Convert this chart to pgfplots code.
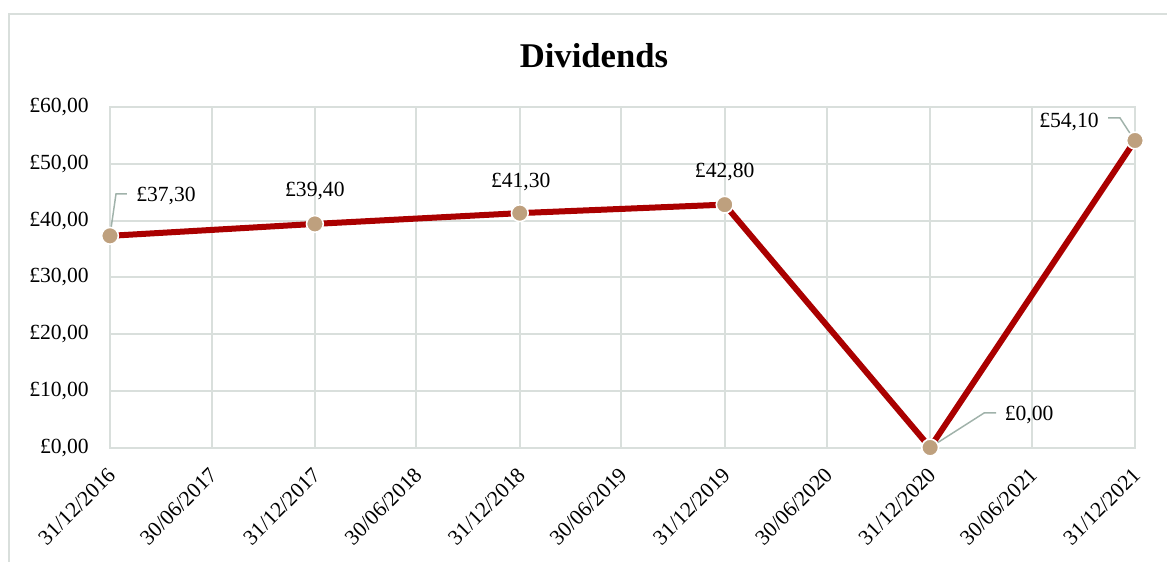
\documentclass[border=0pt]{standalone}
\usepackage{pgfplots}
\pgfplotsset{compat=1.18}
\usepackage{fontspec}
\setmainfont{Liberation Serif}
\definecolor{gridc}{RGB}{217,223,220}
\definecolor{linec}{RGB}{170,0,0}
\definecolor{markc}{RGB}{190,160,126}
\definecolor{leadc}{RGB}{160,178,170}
\begin{document}
\begin{tikzpicture}
\path[use as bounding box] (-82.5pt,-85.125pt) rectangle (792.75pt,335.625pt);
\draw[gridc, line width=1.5pt] (-75.75pt,-100pt) -- (-75.75pt,325.1pt) -- (820pt,325.1pt);
\node[font=\fontsize{26}{30}\selectfont\bfseries] at (363pt,293.6pt) {Dividends};
\begin{axis}[
  scale only axis,
  width=768.75pt, height=255.375pt,
  xmin=0, xmax=1826, ymin=0, ymax=60,
  clip=false,
  xtick={0,181,365,546,730,911,1095,1277,1461,1642,1826},
  xticklabels={31/12/2016,30/06/2017,31/12/2017,30/06/2018,31/12/2018,30/06/2019,31/12/2019,30/06/2020,31/12/2020,30/06/2021,31/12/2021},
  ytick={0,10,20,30,40,50,60},
  yticklabels={{£0,00},{£10,00},{£20,00},{£30,00},{£40,00},{£50,00},{£60,00}},
  grid=major,
  major grid style={color=gridc, line width=1.5pt},
  axis line style={color=gridc, line width=1.5pt},
  major tick length=0pt,
  xticklabel style={xshift=1.3pt, yshift=-17.9pt, rotate=45, anchor=east, inner sep=0pt, font=\fontsize{16.2}{18}\selectfont},
  yticklabel style={anchor=east, inner sep=0pt, font=\fontsize{16.2}{18}\selectfont, xshift=-15.75pt},
]
\addplot[color=linec, line width=4.5pt, mark=*, mark size=6.3pt,
  mark options={fill=markc, draw=white, line width=1.2pt, solid}]
  coordinates {(0,37.3) (365,39.4) (730,41.3) (1095,42.8) (1461,0) (1826,54.1)};
% leader lines
\draw[leadc, line width=1.1pt] (axis cs:0,37.3) ++(0.4pt,3pt) -- ++(4.1pt,28.4pt) -- ++(8.25pt,0pt);
\draw[leadc, line width=1.1pt] (axis cs:1461,0) ++(1.5pt,1pt) -- ++(39pt,24.9pt) -- ++(9pt,0pt);
\draw[leadc, line width=1.1pt] (axis cs:1826,54.1) ++(-1.5pt,1.9pt) -- ++(-9.75pt,15pt) -- ++(-9pt,0pt);
% data labels
\begin{scope}[every node/.style={font=\fontsize{16.2}{18}\selectfont, inner sep=0pt}]
\node at (axis cs:0,37.3) [xshift=42pt, yshift=29.9pt] {£37,30};
\node at (axis cs:365,39.4) [yshift=24.7pt] {£39,40};
\node at (axis cs:730,41.3) [xshift=0.75pt, yshift=23.3pt] {£41,30};
\node at (axis cs:1095,42.8) [yshift=24.5pt] {£42,80};
\node at (axis cs:1461,0) [xshift=74.3pt, yshift=24.4pt] {£0,00};
\node at (axis cs:1826,54.1) [xshift=-49.5pt, yshift=13.9pt] {£54,10};
\end{scope}
\end{axis}
\end{tikzpicture}
\end{document}
